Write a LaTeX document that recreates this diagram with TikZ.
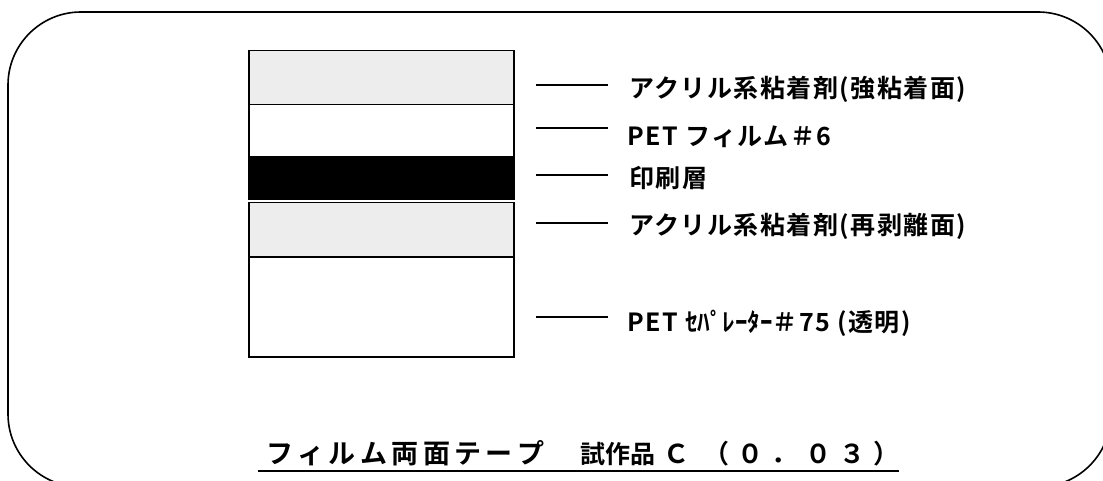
\documentclass[tikz,border=0pt]{standalone}
\usepackage{fontspec}
\setmainfont{Liberation Sans}
\newfontfamily\jpfont{Noto Sans CJK JP}[BoldFont={* Bold}]
\usetikzlibrary{calc}
\definecolor{layergray}{HTML}{EDEDED}
\tikzset{
  layer/.style={draw=black, line width=1.5pt, anchor=north west, inner sep=0pt, minimum width=265pt},
  leader/.style={line width=1.6pt},
  lbl/.style={anchor=base west, inner sep=0pt, font=\jpfont\bfseries\fontsize{25}{25}\selectfont\addfontfeature{LetterSpace=6}},
  ttl/.style={anchor=base west, inner sep=0pt, font=\jpfont\bfseries\fontsize{26}{26}\selectfont},
  frame/.style={line width=1.6pt, rounded corners=73pt}
}
\begin{document}
\begin{tikzpicture}[x=1pt, y=-1pt]
\useasboundingbox (0,0) rectangle (1103,481);
\clip (0,0) rectangle (1103,481);
\draw[frame] (8,12) rectangle (1111,487);
% layers
\node[layer, fill=layergray, minimum height=54pt] (L1) at (248,50) {};
\node[layer, fill=white, minimum height=52pt] (L2) at (248,104) {};
\node[layer, fill=black, minimum height=43pt] (L3) at (248,156) {};
\node[layer, fill=layergray, minimum height=54pt] (L4) at (248,202) {};
\node[layer, fill=white, minimum height=100pt] (L5) at (248,256) {};
% leader lines
\coordinate (a1) at (536,85);  \coordinate (b1) at (608,85);
\coordinate (a2) at (536,128); \coordinate (b2) at (608,128);
\coordinate (a3) at (536,175); \coordinate (b3) at (608,175);
\coordinate (a4) at (536,223); \coordinate (b4) at (608,223);
\coordinate (a5) at (536,317); \coordinate (b5) at (608,317);
\draw[leader] (a1) -- (b1);
\draw[leader] (a2) -- (b2);
\draw[leader] (a3) -- (b3);
\draw[leader] (a4) -- (b4);
\draw[leader] (a5) -- (b5);
% labels
\node[lbl] (t1) at (629,98) {アクリル系粘着剤(強粘着面)};
\node[lbl] (t2) at (627,146) {PET フィルム＃6};
\node[lbl] (t3) at (629,188) {印刷層};
\node[lbl] (t4) at (629,235) {アクリル系粘着剤(再剥離面)};
\node[lbl] (t5) at (627,331) {PET {\addfontfeature{LetterSpace=0}ｾﾊﾟﾚｰﾀｰ}＃75 (透明)};
% title
\node[ttl] (title) at (258,463) {\hspace*{8pt}{\fontsize{27}{27}\selectfont\makebox[278pt][s]{フ\hfill ィ\hfill ル\hfill ム\hfill 両\hfill 面\hfill テ\hfill ー\hfill プ}}\hspace*{36pt}{\fontsize{25}{25}\selectfont 試作品}\hspace*{8pt}Ｃ\hspace*{14pt}\makebox[196pt][s]{（\hfill ０\hfill ．\hfill ０\hfill ３\hfill ）}};
\draw[line width=1.8pt] ($(title.base west)+(0,8)$) -- ($(title.base east)+(0,8)$);
\end{tikzpicture}
\end{document}
